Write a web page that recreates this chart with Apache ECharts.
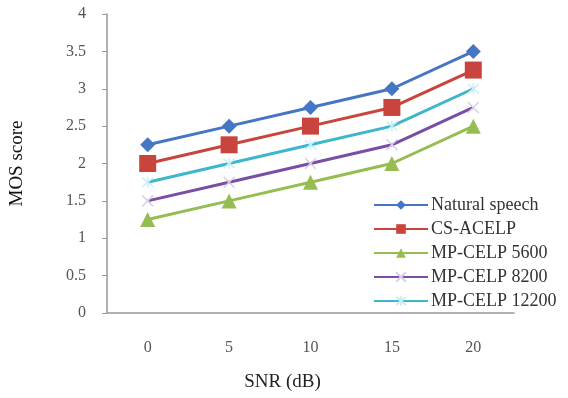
<!DOCTYPE html>
<html>
<head>
<meta charset="utf-8">
<script src="https://cdn.jsdelivr.net/npm/echarts@6/dist/echarts.min.js"></script>
<style>
  html, body { margin: 0; padding: 0; background: #fff; }
  #chart { width: 568px; height: 398px; }
</style>
</head>
<body>
<div id="chart"></div>
<script>
// SNR levels (dB) on the horizontal axis
const snrLevels = ['0', '5', '10', '15', '20'];

// MOS scores per coder
const naturalSpeech = [2.25, 2.5, 2.75, 3.0, 3.5];
const csAcelp = [2.0, 2.25, 2.5, 2.75, 3.25];
const mpCelp5600 = [1.25, 1.5, 1.75, 2.0, 2.5];
const mpCelp8200 = [1.5, 1.75, 2.0, 2.25, 2.75];
const mpCelp12200 = [1.75, 2.0, 2.25, 2.5, 3.0];

const seriesNames = ['Natural speech', 'CS-ACELP', 'MP-CELP 5600', 'MP-CELP 8200', 'MP-CELP 12200'];

const serif = '"Liberation Serif", "Times New Roman", serif';

const crossPath = 'path://M0,0L10,10M10,0L0,10';
const starPath = 'path://M0,0L10,10M10,0L0,10M5,-1L5,11';

function lineSeries(name, data, color, symbol, size, extra) {
  return Object.assign({
    name: name,
    type: 'line',
    data: data,
    symbol: symbol,
    symbolSize: size,
    lineStyle: { color: color, width: 3 },
    itemStyle: { color: color },
    z: 3
  }, extra || {});
}

const chart = echarts.init(document.getElementById('chart'), null, { renderer: 'canvas' });

chart.setOption({
  animation: false,
  backgroundColor: '#ffffff',
  grid: { left: 103, right: 54, top: 14, bottom: 85, containLabel: false },
  xAxis: {
    type: 'category',
    data: snrLevels,
    boundaryGap: true,
    name: 'SNR (dB)',
    nameLocation: 'middle',
    nameGap: 60,
    nameTextStyle: { fontFamily: serif, fontSize: 19, color: '#222', padding: [0, 56, 0, 0] },
    axisLine: { lineStyle: { color: '#999', width: 1.5 } },
    axisTick: { show: false },
    axisLabel: { fontFamily: serif, fontSize: 16, color: '#555', margin: 27 },
    splitLine: { show: false }
  },
  yAxis: {
    type: 'value',
    min: 0,
    max: 4,
    interval: 0.5,
    name: 'MOS score',
    nameLocation: 'middle',
    nameGap: 80,
    nameRotate: 90,
    nameTextStyle: { fontFamily: serif, fontSize: 19, color: '#111' },
    axisLine: { show: true, lineStyle: { color: '#999', width: 1.5 } },
    axisTick: { show: true, length: 5, lineStyle: { color: '#999' } },
    axisLabel: { fontFamily: serif, fontSize: 16, color: '#555', margin: 21 },
    splitLine: { show: false }
  },
  legend: {
    orient: 'vertical',
    left: 368,
    top: 191,
    itemWidth: 54,
    itemHeight: 12,
    itemGap: 6,
    data: seriesNames,
    textStyle: { fontFamily: serif, fontSize: 18, color: '#333', lineHeight: 18, padding: [0, 0, 0, -2] }
  },
  series: [
    lineSeries(seriesNames[0], naturalSpeech, '#4576c4', 'diamond', 15),
    lineSeries(seriesNames[1], csAcelp, '#c8443c', 'rect', 17),
    lineSeries(seriesNames[2], mpCelp5600, '#96bd52', 'triangle', 15),
    lineSeries(seriesNames[3], mpCelp8200, '#7a4ea6', crossPath, 11, {
      itemStyle: { color: 'transparent', borderColor: '#d9d0e8', borderWidth: 1.5 }
    }),
    lineSeries(seriesNames[4], mpCelp12200, '#3eb6cc', starPath, 11, {
      itemStyle: { color: 'transparent', borderColor: '#c9eef5', borderWidth: 1.5 }
    })
  ]
});
</script>
</body>
</html>
